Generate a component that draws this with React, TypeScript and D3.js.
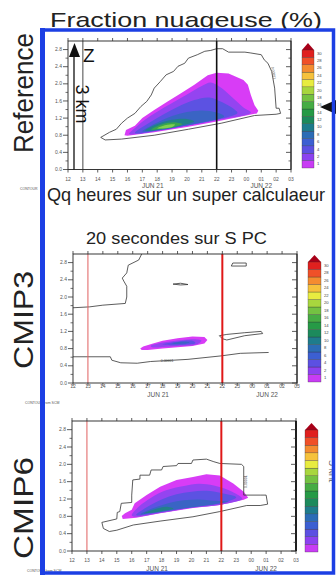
import React from 'react';
import * as d3 from 'd3';

type Pt = [number, number];

// axis values
const hourValues = [12, 13, 14, 15, 16, 17, 18, 19, 20, 21, 22, 23, 24, 25, 26, 27];
const hourLabels = ["12", "13", "14", "15", "16", "17", "18", "19", "20", "21", "22", "23", "00", "01", "02", "03"];
const kmTicks = [0, 0.4, 0.8, 1.2, 1.6, 2.0, 2.4, 2.8];
const kmMinor = [0.2, 0.6, 1.0, 1.4, 1.8, 2.2, 2.6];
const dayLabels = ["JUN 21", "JUN 22"];
const dayHours = [17.7, 25.0];

// colour bar (bottom -> top)
const levelLabels = ["1", "2", "4", "6", "8", "10", "12", "14", "16", "18", "20", "22", "24", "26", "28", "30"];
const levelColors = ["#c83cf4", "#8c42f0", "#5c50e2", "#3c5fd2", "#2c6cb6", "#1e7c8c", "#1c8a5c", "#269a46",
  "#46ac44", "#74c242", "#a8d63e", "#e8ec40", "#f6c23c", "#f48c30", "#f05028", "#e0201e"];
const overColor = "#a80018";
const fillColors = ["#d83cf6", "#9444f0", "#5c52e2", "#3a64c4", "#22808a", "#3aa64c", "#80d050"];

// Reference : 0.00001 contour and filled levels (hour, km)
const refOutline: Pt[] = [[14.2, 0.75], [14.8, 0.87], [15.25, 0.94], [15.6, 1.08], [16.0, 1.2], [16.5, 1.31], [16.9, 1.47],
  [17.3, 1.59], [17.6, 1.74], [17.8, 1.9], [18.2, 2.05], [18.6, 2.21], [19.1, 2.29], [19.4, 2.41], [19.85, 2.48],
  [20.1, 2.6], [20.7, 2.68], [21.2, 2.76], [21.6, 2.78], [22.0, 2.82], [22.4, 2.82], [22.8, 2.74], [23.9, 2.74],
  [24.3, 2.72], [25.0, 2.68], [25.2, 2.56], [25.45, 2.48], [25.7, 2.29], [25.9, 1.9], [26.0, 1.43], [26.2, 1.43],
  [26.3, 1.31], [26.0, 1.29], [24.55, 1.26], [22.3, 1.08], [20.1, 0.94], [17.8, 0.8], [15.6, 0.71], [14.5, 0.69]];
const ref1: Pt[] = [[15.8, 0.8], [15.9, 0.92], [16.5, 1.02], [17.0, 1.2], [17.8, 1.39], [18.7, 1.59], [19.6, 1.78],
  [20.5, 1.98], [21.4, 2.2], [22.0, 2.26], [22.8, 2.24], [23.8, 2.09], [24.1, 1.98], [24.3, 1.74], [24.55, 1.5],
  [24.8, 1.37], [24.7, 1.31], [22.0, 1.12], [20.1, 1.0], [17.8, 0.87], [16.0, 0.79]];
const ref2: Pt[] = [[16.1, 0.83], [16.6, 1.0], [17.2, 1.17], [18.0, 1.35], [19.0, 1.55], [20.0, 1.75], [21.0, 1.95],
  [21.6, 2.03], [22.2, 1.93], [23.0, 1.7], [23.8, 1.45], [24.3, 1.33], [22.0, 1.15], [20.0, 1.02], [18.0, 0.9], [16.3, 0.82]];
const ref3: Pt[] = [[16.5, 0.86], [17.5, 1.1], [18.5, 1.3], [19.5, 1.48], [20.5, 1.62], [21.5, 1.68], [22.3, 1.58],
  [23.2, 1.4], [23.4, 1.32], [22.0, 1.16], [20.0, 1.03], [18.0, 0.91], [16.7, 0.84]];
const ref4: Pt[] = [[17.0, 0.89], [18.0, 1.1], [19.0, 1.25], [20.0, 1.34], [21.0, 1.38], [22.0, 1.33], [22.5, 1.24],
  [21.0, 1.1], [19.5, 1.0], [18.0, 0.91]];
const ref5: Pt[] = [[17.2, 0.91], [18.0, 1.06], [19.0, 1.16], [20.0, 1.18], [20.5, 1.12], [19.5, 1.02], [18.5, 0.95], [17.5, 0.9]];
const ref6: Pt[] = [[17.6, 0.93], [18.3, 1.05], [19.2, 1.1], [19.7, 1.06], [19.2, 1.0], [18.3, 0.95]];
const ref7: Pt[] = [[18.0, 0.96], [18.6, 1.04], [19.2, 1.05], [19.0, 0.99], [18.4, 0.96]];

// CMIP3
const c3Upper: Pt[] = [[12.0, 1.75], [13.1, 1.77], [14.0, 1.81], [15.5, 1.85], [15.6, 2.0], [15.6, 2.25], [15.4, 2.37],
  [15.3, 2.44], [15.6, 2.56], [15.7, 2.74], [16.4, 2.86], [16.6, 3.0]];
const c3Lower: Pt[] = [[12.0, 0.61], [14.5, 0.61], [14.6, 0.53], [15.2, 0.47], [16.3, 0.46], [17.2, 0.5], [19.7, 0.55],
  [21.9, 0.63], [23.2, 0.69], [25.1, 0.71]];
const c3Dash: Pt[] = [[18.7, 2.3], [19.2, 2.32], [19.7, 2.29], [19.2, 2.28]];
const c3Box: Pt[] = [[22.6, 2.72], [22.7, 2.79], [23.6, 2.79], [23.6, 2.72]];
const c3Loop: Pt[] = [[21.8, 1.1], [22.3, 1.13], [23.5, 1.17], [24.6, 1.2], [24.7, 1.15], [23.5, 1.1], [22.3, 1.0], [22.0, 1.03]];
const c31: Pt[] = [[16.5, 0.8], [16.7, 0.85], [17.3, 0.91], [18.0, 0.98], [19.0, 1.04], [20.0, 1.08], [20.8, 1.07],
  [21.0, 1.0], [20.8, 0.92], [20.0, 0.86], [19.0, 0.83], [18.0, 0.8], [17.0, 0.77], [16.6, 0.77]];
const c32: Pt[] = [[17.2, 0.86], [18.0, 0.94], [19.0, 0.99], [20.0, 1.02], [20.6, 0.99], [20.3, 0.9], [19.0, 0.86], [18.0, 0.84], [17.3, 0.83]];
const c33: Pt[] = [[18.0, 0.9], [19.0, 0.96], [20.0, 0.98], [20.2, 0.93], [19.5, 0.89], [18.5, 0.88]];
const c34: Pt[] = [[18.6, 0.92], [19.3, 0.96], [19.8, 0.95], [19.4, 0.91]];

// CMIP6
const c6Outline: Pt[] = [[14.0, 0.66], [15.0, 0.74], [15.03, 0.89], [15.2, 0.91], [15.3, 1.1], [16.0, 1.12], [16.0, 1.29],
  [16.07, 1.64], [16.55, 1.66], [16.55, 1.75], [17.2, 1.75], [17.3, 1.87], [18.0, 1.87], [18.1, 1.95], [19.0, 1.97],
  [19.1, 2.02], [20.0, 2.02], [20.1, 2.1], [21.0, 2.12], [21.5, 2.06], [21.9, 2.02], [23.35, 2.0], [23.5, 1.95],
  [23.5, 1.29], [24.6, 1.29], [25.0, 1.29], [25.1, 1.08], [24.6, 1.05], [23.7, 1.05], [21.9, 0.91], [20.1, 0.79],
  [17.9, 0.69], [16.1, 0.6], [15.0, 0.48], [14.5, 0.45], [14.1, 0.52]];
const c61: Pt[] = [[15.33, 0.81], [15.55, 0.87], [16.0, 0.95], [16.2, 1.1], [17.0, 1.29], [17.9, 1.48], [19.0, 1.64],
  [20.1, 1.71], [21.0, 1.77], [21.9, 1.74], [22.8, 1.56], [23.5, 1.37], [23.8, 1.23], [23.5, 1.18], [21.9, 1.06],
  [20.1, 0.99], [17.9, 0.87], [16.3, 0.77], [15.4, 0.74]];
const c62: Pt[] = [[16.0, 0.82], [16.5, 1.03], [17.3, 1.23], [18.3, 1.4], [19.5, 1.5], [20.5, 1.55], [21.5, 1.51],
  [22.5, 1.4], [23.3, 1.25], [23.4, 1.2], [22.0, 1.07], [20.0, 1.0], [18.0, 0.88], [16.3, 0.79]];
const c63: Pt[] = [[16.3, 0.83], [17.0, 1.01], [18.0, 1.19], [19.0, 1.31], [20.0, 1.37], [21.0, 1.39], [22.0, 1.34],
  [23.0, 1.24], [22.0, 1.1], [20.0, 1.02], [18.0, 0.9]];
const c64: Pt[] = [[16.6, 0.85], [17.5, 1.0], [18.5, 1.11], [19.5, 1.17], [20.5, 1.19], [21.5, 1.16], [22.5, 1.14],
  [21.0, 1.05], [19.0, 0.96], [17.5, 0.88]];
const c65: Pt[] = [[16.8, 0.87], [17.5, 0.96], [18.3, 1.02], [18.8, 0.98], [18.0, 0.92], [17.2, 0.88]];

const FONT = "'Liberation Sans', Arial, sans-serif";

type Outline = { pts: Pt[]; closed: boolean };
type VLine = { hour: number; color: string; width: number };

type PanelProps = {
  left: number; right: number; top: number; bottom: number;
  barX: number; barW: number; barTop: number; barBottom: number; barLabels: boolean;
  tickY: number; dayY: number;
  fills: Pt[][]; outlines: Outline[]; vlines: VLine[];
  note: { hour: number; km: number; angle: number };
  frameRight: number;
};

function Panel(p: PanelProps) {
  const x = d3.scaleLinear().domain([12, 27]).range([p.left, p.right]);
  const y = d3.scaleLinear().domain([0, 3]).range([p.bottom, p.top]);
  const open = d3.line<Pt>().x(d => x(d[0])).y(d => y(d[1]));
  const closed = d3.line<Pt>().x(d => x(d[0])).y(d => y(d[1])).curve(d3.curveLinearClosed);
  const smooth = d3.line<Pt>().x(d => x(d[0])).y(d => y(d[1])).curve(d3.curveCatmullRomClosed.alpha(0.5));
  const bar = d3.scaleBand<string>().domain([...levelLabels].reverse()).range([p.barTop + 7, p.barBottom]);
  const tri = `M${p.barX},${p.barTop + 7}L${p.barX + p.barW / 2},${p.barTop}L${p.barX + p.barW},${p.barTop + 7}Z`;

  return (
    <g>
      {p.fills.map((f, i) => (
        <path key={'f' + i} d={(i === 0 ? closed(f) : smooth(f)) || ''} fill={fillColors[i]} />
      ))}
      {p.outlines.map((o, i) => (
        <path key={'o' + i} d={(o.closed ? closed(o.pts) : open(o.pts)) || ''} fill="none" stroke="#333" strokeWidth={0.8} />
      ))}
      <text x={0} y={0} fontSize={3.5} fill="#444" fontFamily={FONT}
        transform={`translate(${x(p.note.hour)},${y(p.note.km)}) rotate(${p.note.angle})`} textAnchor="middle">0.00001</text>
      {p.vlines.map((v, i) => (
        <line key={'v' + i} x1={x(v.hour)} x2={x(v.hour)} y1={p.top} y2={p.bottom} stroke={v.color} strokeWidth={v.width} />
      ))}
      {/* frame */}
      <rect x={p.left} y={p.top} width={p.right - p.left} height={p.bottom - p.top} fill="none" stroke="#222" strokeWidth={0.9} />
      <line x1={p.right} x2={p.right} y1={p.top} y2={p.bottom} stroke="#111" strokeWidth={p.frameRight} />
      {kmTicks.map(k => (
        <g key={'k' + k}>
          <line x1={p.left - 5} x2={p.left} y1={y(k)} y2={y(k)} stroke="#333" strokeWidth={0.8} />
          <line x1={p.right - 5} x2={p.right} y1={y(k)} y2={y(k)} stroke="#333" strokeWidth={0.8} />
          <text x={p.left - 6} y={y(k) + 1.6} fontSize={5} fill="#555" textAnchor="end" fontFamily={FONT}>{k.toFixed(1)}</text>
        </g>
      ))}
      {kmMinor.map(k => (
        <g key={'m' + k}>
          <line x1={p.left - 2.5} x2={p.left} y1={y(k)} y2={y(k)} stroke="#333" strokeWidth={0.7} />
          <line x1={p.right - 2.5} x2={p.right} y1={y(k)} y2={y(k)} stroke="#333" strokeWidth={0.7} />
        </g>
      ))}
      {hourValues.map((h, i) => (
        <g key={'h' + h}>
          <line x1={x(h)} x2={x(h)} y1={p.bottom} y2={p.bottom + 3} stroke="#333" strokeWidth={0.8} />
          <line x1={x(h)} x2={x(h)} y1={p.top} y2={p.top - 3} stroke="#333" strokeWidth={0.8} />
          <text x={x(h)} y={p.tickY} fontSize={5} fill="#555" textAnchor="middle" fontFamily={FONT}>{hourLabels[i]}</text>
        </g>
      ))}
      {dayLabels.map((d, i) => (
        <text key={d} x={x(dayHours[i])} y={p.dayY} fontSize={6.5} fill="#555" textAnchor="middle" fontFamily={FONT}>{d}</text>
      ))}
      {/* colour bar */}
      <path d={tri} fill={overColor} />
      {levelLabels.map((l, i) => (
        <g key={'b' + l}>
          <rect x={p.barX} y={bar(l)} width={p.barW} height={bar.bandwidth()} fill={levelColors[i]} stroke="#333" strokeWidth={0.3} />
          {p.barLabels && (
            <text x={p.barX + p.barW + 3} y={(bar(l) || 0) + bar.bandwidth() / 2 + 1} fontSize={4.2} fill="#444" fontFamily={FONT}>{l}</text>
          )}
        </g>
      ))}
    </g>
  );
}

const panelRef: PanelProps = {
  left: 68, right: 291, top: 41, bottom: 169.5,
  barX: 302, barW: 12, barTop: 43, barBottom: 168, barLabels: true,
  tickY: 180.5, dayY: 188,
  fills: [ref1, ref2, ref3, ref4, ref5, ref6, ref7],
  outlines: [{ pts: refOutline, closed: true }],
  vlines: [{ hour: 13, color: '#333', width: 0.9 }, { hour: 22, color: '#111', width: 1.6 }],
  note: { hour: 25.75, km: 2.25, angle: 80 }, frameRight: 0.9,
};

const panelC3: PanelProps = {
  left: 73, right: 297, top: 254, bottom: 383,
  barX: 308, barW: 13, barTop: 255, barBottom: 382, barLabels: true,
  tickY: 388, dayY: 397,
  fills: [c31, c32, c33, c34],
  outlines: [{ pts: c3Upper, closed: false }, { pts: c3Lower, closed: false }, { pts: c3Dash, closed: true },
    { pts: c3Box, closed: true }, { pts: c3Loop, closed: true }],
  vlines: [{ hour: 13, color: '#e06060', width: 1 }, { hour: 22, color: '#e01818', width: 2 }],
  note: { hour: 18.3, km: 0.5, angle: 0 }, frameRight: 0.9,
};

const panelC6: PanelProps = {
  left: 72, right: 296, top: 421, bottom: 551,
  barX: 305, barW: 13, barTop: 423, barBottom: 552, barLabels: false,
  tickY: 561.5, dayY: 571,
  fills: [c61, c62, c63, c64, c65],
  outlines: [{ pts: c6Outline, closed: true }],
  vlines: [{ hour: 13, color: '#e06060', width: 1 }, { hour: 22, color: '#e01818', width: 2 }],
  note: { hour: 23.75, km: 1.6, angle: -90 }, frameRight: 1.8,
};

export default function App() {
  const blue = '#1c3fe4';
  return (
    <svg width={336} height={575} style={{ position: 'absolute', left: 0, top: 0, background: '#fff' }}>
      <rect x={0} y={0} width={336} height={575} fill="#fff" />
      <text x={50} y={27} fontSize={21} fontFamily={FONT} fill="#222" textLength={272} lengthAdjust="spacingAndGlyphs">Fraction nuageuse (%)</text>

      <Panel {...panelRef} />
      <Panel {...panelC3} />
      <Panel {...panelC6} />

      {/* reference annotations */}
      <line x1={74} x2={74} y1={56} y2={169.5} stroke="#111" strokeWidth={1.3} />
      <path d="M69,57L74.5,43L80,57Z" fill="#111" />
      <text x={83} y={62} fontSize={19} fontFamily={FONT} fill="#111">Z</text>
      <text x={0} y={0} fontSize={18} fontFamily={FONT} fill="#111" textAnchor="middle"
        transform="translate(76,104) rotate(90)">3 km</text>
      <path d="M320,107L336,100L336,114Z" fill="#111" />
      <text x={0} y={0} fontSize={8} fontFamily={FONT} fill="#555" textAnchor="middle"
        transform="translate(334,472) rotate(-90)">JUN C</text>

      {/* contour footnotes */}
      <text x={20} y={190} fontSize={3.5} fill="#555" fontFamily={FONT}>CONTOUR</text>
      <text x={25} y={404} fontSize={3.5} fill="#555" fontFamily={FONT}>CONTOUR from SCM</text>
      <text x={27} y={571.5} fontSize={3.5} fill="#555" fontFamily={FONT}>CONTOUR from SCM</text>

      <text x={47} y={201} fontSize={19} fontFamily={FONT} fill="#222" textLength={278} lengthAdjust="spacingAndGlyphs">Qq heures sur un super calculaeur</text>
      <text x={86} y={244} fontSize={16} fontFamily={FONT} fill="#222" textLength={181} lengthAdjust="spacingAndGlyphs">20 secondes sur S PC</text>

      {/* row labels */}
      <text x={0} y={0} fontSize={27} fontFamily={FONT} fill="#222" textAnchor="middle" textLength={120} lengthAdjust="spacingAndGlyphs"
        transform="translate(33,93) rotate(-90)">Reference</text>
      <text x={0} y={0} fontSize={27} fontFamily={FONT} fill="#222" textAnchor="middle" textLength={98} lengthAdjust="spacingAndGlyphs"
        transform="translate(33,320) rotate(-90)">CMIP3</text>
      <text x={0} y={0} fontSize={27} fontFamily={FONT} fill="#222" textAnchor="middle" textLength={102} lengthAdjust="spacingAndGlyphs"
        transform="translate(33,508) rotate(-90)">CMIP6</text>

      {/* blue frame */}
      <rect x={42} y={30} width={291.5} height={543} fill="none" stroke={blue} strokeWidth={3.5} />
      <rect x={40} y={28} width={5} height={547} fill={blue} />
    </svg>
  );
}
